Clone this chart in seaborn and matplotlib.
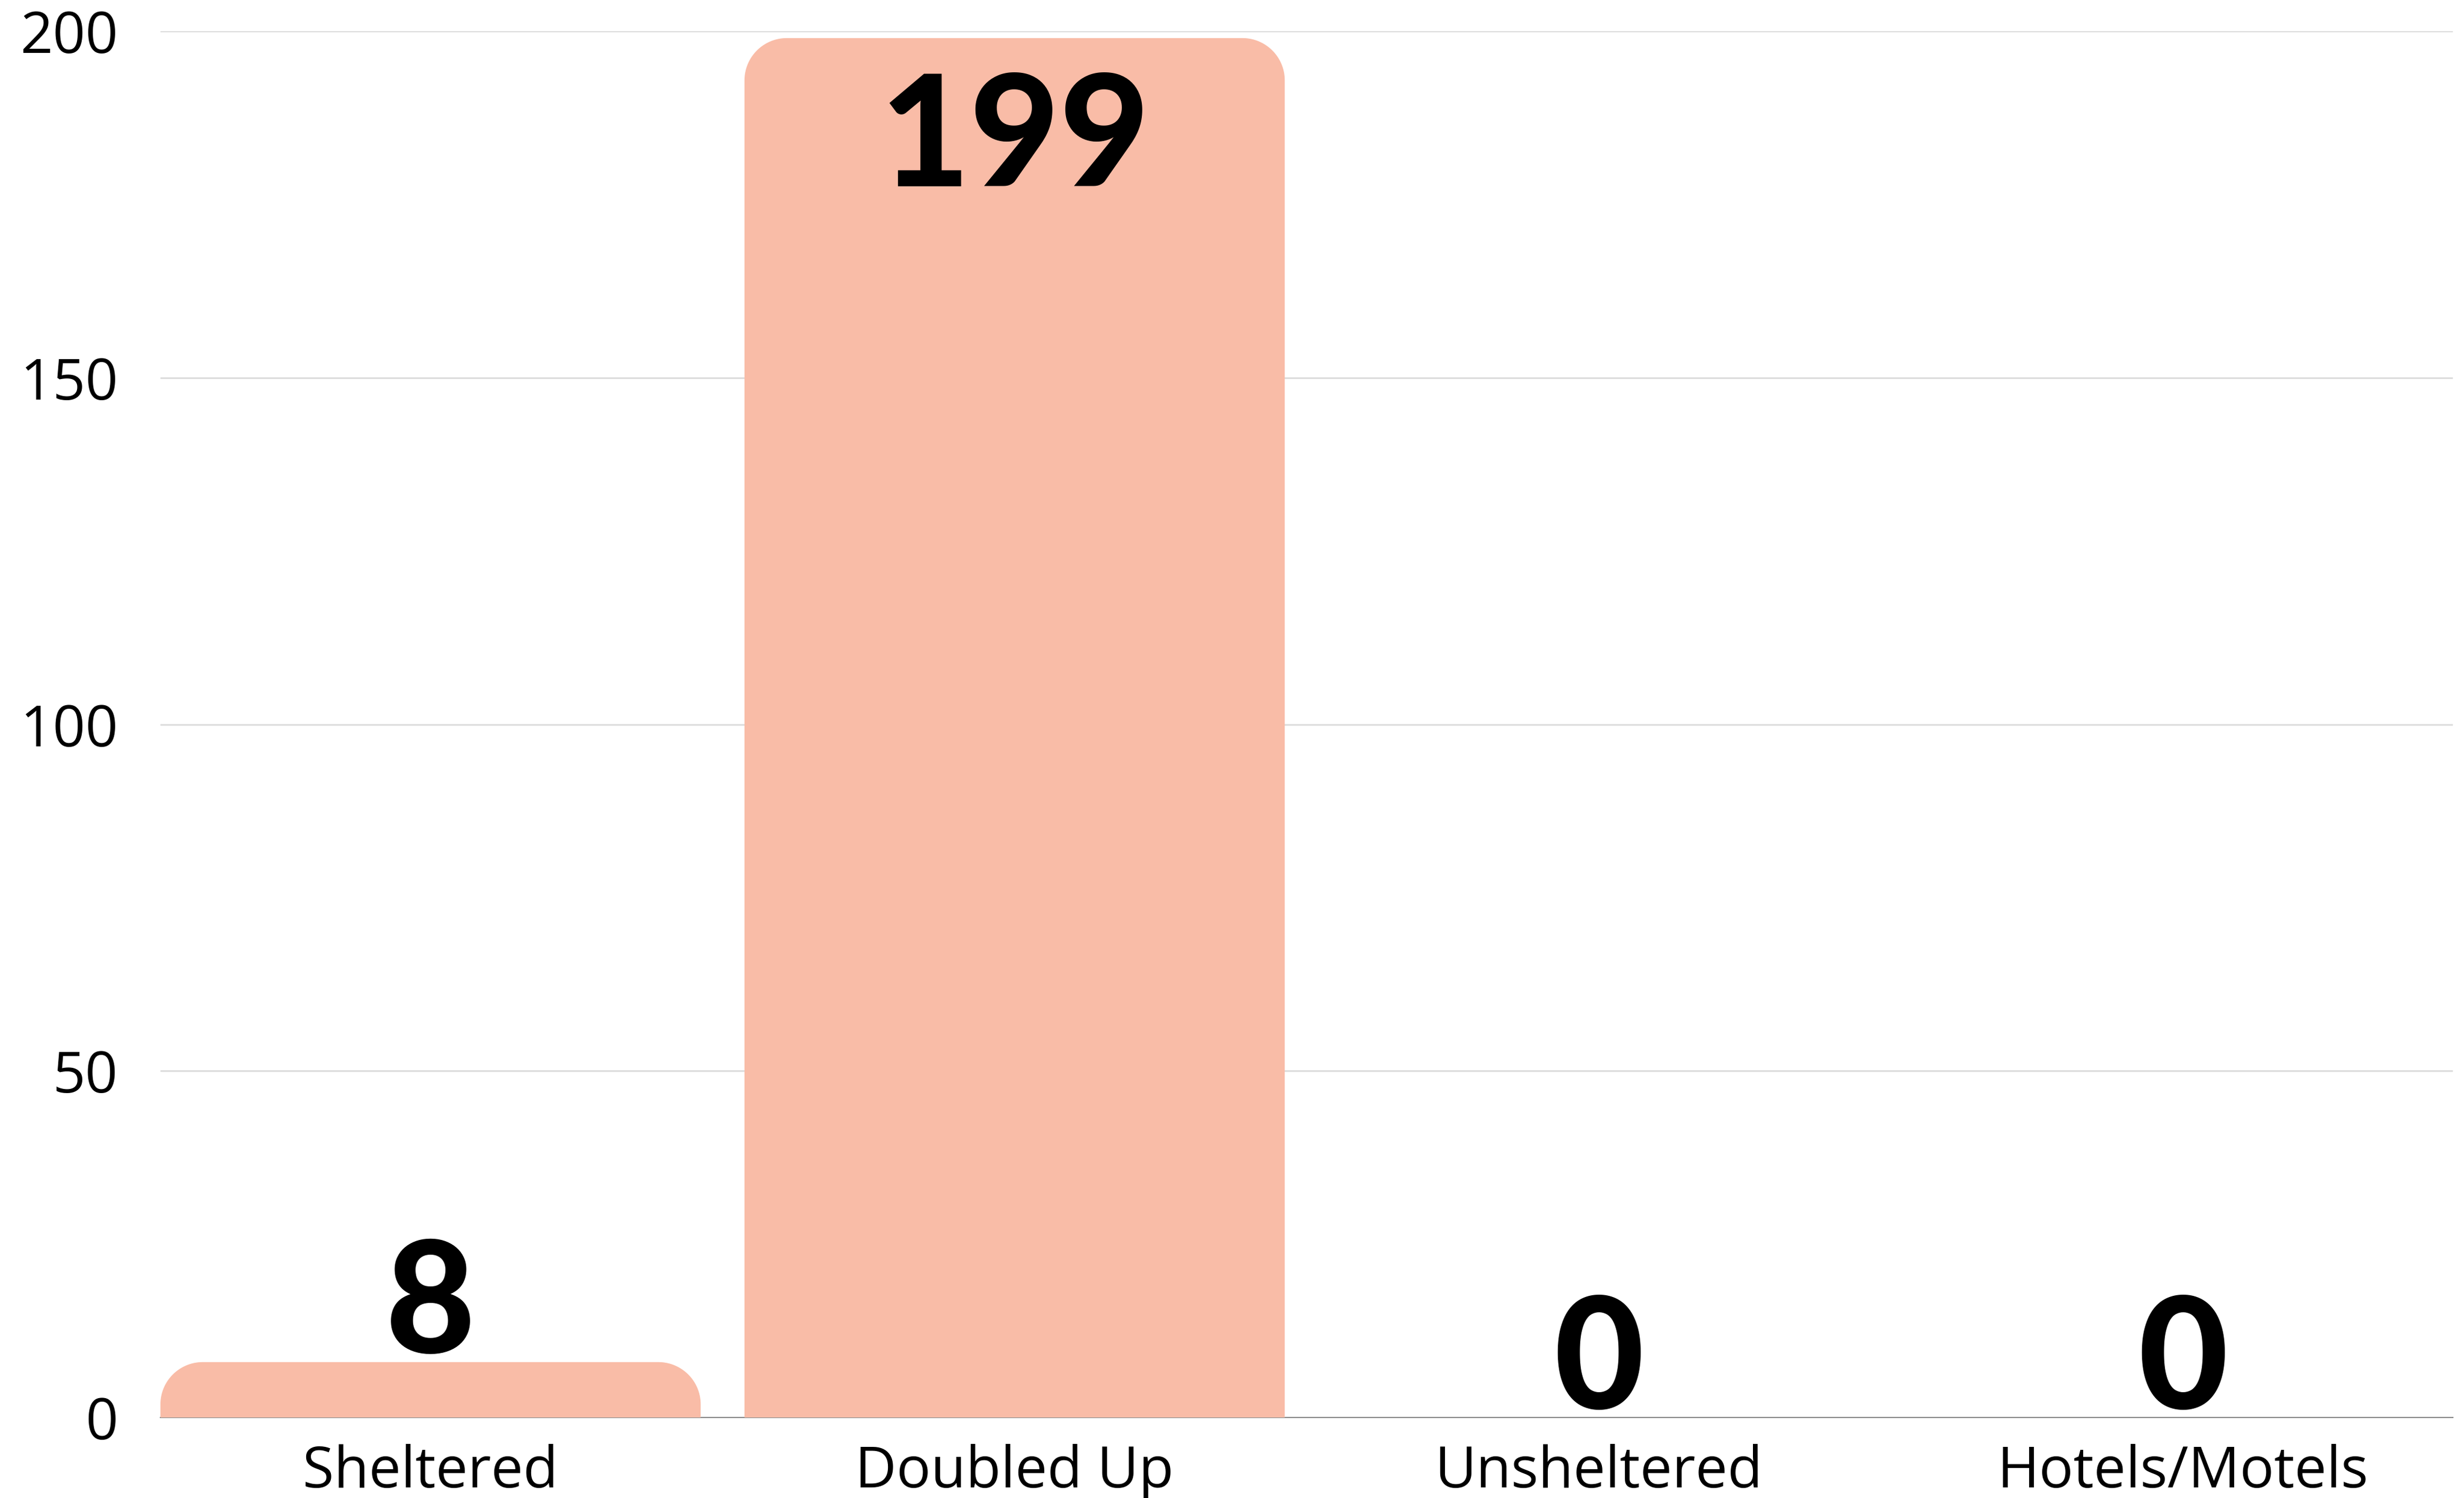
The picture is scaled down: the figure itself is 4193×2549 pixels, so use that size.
import seaborn as sns
import matplotlib.pyplot as plt
import numpy as np
import pandas as pd
from matplotlib.path import Path
from matplotlib.patches import PathPatch

# Data
categories = ['Sheltered', 'Doubled Up', 'Unsheltered', 'Hotels/Motels']
counts = [8, 199, 0, 0]
y_ticks = [0, 50, 100, 150, 200]

bar_color = '#F9BCA7'
grid_color = '#DCDCDC'

df = pd.DataFrame({'category': categories, 'count': counts})

sns.set_style('white')
plt.rcParams['font.family'] = ['Open Sans', 'DejaVu Sans']

fig = plt.figure(figsize=(41.93, 25.49), dpi=100)
ax = fig.add_axes([0.0651, 0.0537, 0.9304, 0.9255])

sns.barplot(data=df, x='category', y='count', color=bar_color, width=0.925,
            saturation=1, ax=ax, zorder=2)

ax.set_xlim(-0.4625, 3.4625)
ax.set_ylim(0, 200)
ax.set_yticks(y_ticks)
ax.yaxis.grid(True, color=grid_color, linewidth=2)
ax.set_axisbelow(True)
for s in ['top', 'right', 'left']:
    ax.spines[s].set_visible(False)
ax.spines['bottom'].set_color('#8C8C8C')
ax.spines['bottom'].set_linewidth(1.5)
ax.spines['bottom'].set_zorder(1)

ax.tick_params(axis='y', length=0, pad=52, labelsize=70, labelcolor='black')
ax.tick_params(axis='x', length=0, pad=32, labelsize=70, labelcolor='black')
ax.set_xlabel('')
ax.set_ylabel('')

# replace bars with top-rounded versions (circular corners in pixel space)
fig.canvas.draw()
bbox = ax.get_window_extent()
px_per_x = bbox.width / (ax.get_xlim()[1] - ax.get_xlim()[0])
px_per_y = bbox.height / (ax.get_ylim()[1] - ax.get_ylim()[0])
r_px = 72
for patch in list(ax.patches):
    x0 = patch.get_x()
    w = patch.get_width()
    h = patch.get_height()
    patch.set_visible(False)
    if h <= 0:
        continue
    rx = r_px / px_per_x
    ry = min(r_px / px_per_y, h)
    t1 = np.linspace(np.pi, np.pi / 2, 30)
    t2 = np.linspace(np.pi / 2, 0, 30)
    left = np.column_stack([x0 + rx + rx * np.cos(t1), h - ry + ry * np.sin(t1)])
    right = np.column_stack([x0 + w - rx + rx * np.cos(t2), h - ry + ry * np.sin(t2)])
    verts = np.vstack([[x0, 0], left, right, [x0 + w, 0], [x0, 0]])
    ax.add_patch(PathPatch(Path(verts, closed=True), facecolor=bar_color,
                           edgecolor='none', zorder=2))

# value labels
label_font = dict(family=['Lato', 'DejaVu Sans'], fontsize=190, fontweight='black', color='black')
for i, v in enumerate(counts):
    if v > 150:
        ax.annotate(str(v), (i, v), xytext=(0, -40), textcoords='offset points',
                    ha='center', va='top', **label_font)
    else:
        ax.annotate(str(v), (i, v), xytext=(0, 11), textcoords='offset points',
                    ha='center', va='baseline', **label_font)

plt.savefig('out.png', dpi=100)
